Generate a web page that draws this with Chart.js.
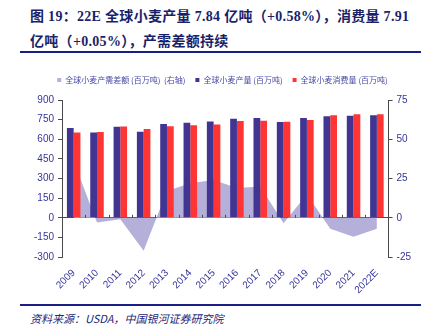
<!DOCTYPE html>
<html>
<head>
<meta charset="utf-8">
<script src="https://cdn.jsdelivr.net/npm/chart.js@4.4.0/dist/chart.umd.min.js"></script>
<style>
    html, body { margin: 0; padding: 0; background: #fff; }
    #page { position: relative; width: 430px; height: 335px; overflow: hidden; }
    #title {
        position: absolute; left: 30px; top: 4px; width: 395px;
        font-family: "Liberation Serif", "Noto Sans CJK SC", serif;
        font-weight: bold; font-size: 14px; line-height: 25px;
        letter-spacing: 0.3px;
        color: #1a1f6a;
    }
    .rule { position: absolute; left: 20px; width: 401px; height: 2px; background: #1a1f86; }
    #chart-box { position: absolute; left: 0; top: 58px; width: 430px; height: 240px; }
    #source {
        position: absolute; left: 30px; top: 310px;
        font-family: "Noto Sans CJK SC", sans-serif; font-style: italic;
        font-size: 11px; color: #24277a;
    }
</style>
</head>
<body>
<div id="page">
    <div id="title">图 19：22E 全球小麦产量 7.84 亿吨（+0.58%），消费量 7.91<br>亿吨（+0.05%），产需差额持续</div>
    <div class="rule" style="top: 51px;"></div>
    <div id="chart-box"><canvas id="wheat-chart"></canvas></div>
    <div class="rule" style="top: 304px;"></div>
    <div id="source">资料来源：USDA，中国银河证券研究院</div>
</div>
<script>
const years = ['2009', '2010', '2011', '2012', '2013', '2014', '2015', '2016', '2017', '2018', '2019', '2020', '2021', '2022E'];

// million tonnes
const production = [686, 651, 696, 658, 717, 727, 735, 756, 763, 731, 762, 776, 779, 784];
const consumption = [651, 656, 697, 679, 700, 707, 712, 739, 742, 734, 747, 783, 791, 791];
// production minus consumption, right axis
const gap = [36, -3, -1, -21, 17, 22, 24, 19, 20, -3.5, 15, -7, -12, -7];

const leftTicks = [900, 750, 600, 450, 300, 150, 0, -150, -300];
const rightTicks = [75, 50, 25, 0, -25];

const axisColor = '#4a4a4a';
const labelColor = '#35359a';

// small upward tick marks on the zero line between categories
const zeroTicks = {
    id: 'zeroTicks',
    afterDatasetsDraw(chart) {
        const x = chart.scales.x;
        const y0 = chart.scales.y.getPixelForValue(0);
        const step = (x.right - x.left) / years.length;
        const ctx = chart.ctx;
        ctx.save();
        ctx.strokeStyle = axisColor;
        ctx.lineWidth = 1;
        ctx.beginPath();
        for (let i = 1; i < years.length; i++)
        {
            const px = Math.round(x.left + i * step) + 0.5;
            ctx.moveTo(px, y0);
            ctx.lineTo(px, y0 - 3);
        }
        ctx.stroke();
        ctx.restore();
    }
};

// a bit more room between legend and plot
const legendGap = {
    id: 'legendGap',
    beforeInit(chart) {
        const fit = chart.legend.fit;
        chart.legend.fit = function() {
            fit.bind(chart.legend)();
            this.height += 6;
        };
    }
};

const wheat_ctx = document.getElementById('wheat-chart').getContext('2d');

const wheatChart = new Chart(wheat_ctx, {
    type: 'bar',
    data: {
        labels: years,
        datasets: [
            {
                type: 'line',
                label: '全球小麦产需差额 (百万吨)  (右轴)',
                data: gap,
                yAxisID: 'y1',
                fill: 'origin',
                backgroundColor: '#b4b0da',
                borderColor: '#b4b0da',
                borderWidth: 0,
                pointRadius: 0,
                tension: 0,
                order: 3
            },
            {
                label: '全球小麦产量 (百万吨)',
                data: production,
                yAxisID: 'y',
                backgroundColor: '#423592',
                order: 1
            },
            {
                label: '全球小麦消费量 (百万吨)',
                data: consumption,
                yAxisID: 'y',
                backgroundColor: '#ff3535',
                order: 2
            }
        ]
    },
    options: {
        responsive: true,
        maintainAspectRatio: false,
        animation: false,
        datasets: {
            bar: { categoryPercentage: 0.58, barPercentage: 1.0 }
        },
        layout: { padding: { left: 30, right: 15, top: 8, bottom: 0 } },
        plugins: {
            tooltip: { enabled: false },
            legend: {
                position: 'top',
                labels: {
                    usePointStyle: true,
                    pointStyle: 'rect',
                    boxWidth: 4,
                    boxHeight: 4,
                    padding: 10,
                    color: '#4646a6',
                    font: { family: '"Noto Sans CJK SC", sans-serif', size: 8 },
                    sort: (a, b) => a.datasetIndex - b.datasetIndex
                }
            }
        },
        scales: {
            x: {
                grid: { display: false },
                border: { display: false },
                ticks: {
                    color: labelColor,
                    maxRotation: 45,
                    minRotation: 45,
                    padding: 2,
                    font: { family: '"Liberation Sans", Arial, sans-serif', size: 10 }
                }
            },
            y: {
                position: 'left',
                min: -300,
                max: 900,
                afterBuildTicks: axis => { axis.ticks = leftTicks.map(v => ({ value: v })); },
                border: { display: true, color: axisColor, width: 1 },
                grid: {
                    color: ctx => ctx.tick && ctx.tick.value === 0 ? axisColor : 'rgba(0,0,0,0)',
                    tickColor: axisColor,
                    tickLength: 4
                },
                ticks: {
                    color: labelColor,
                    padding: 4,
                    font: { family: '"Liberation Sans", Arial, sans-serif', size: 10 }
                }
            },
            y1: {
                position: 'right',
                min: -25,
                max: 75,
                afterBuildTicks: axis => { axis.ticks = rightTicks.map(v => ({ value: v })); },
                border: { display: true, color: axisColor, width: 1 },
                grid: {
                    drawOnChartArea: false,
                    tickColor: axisColor,
                    tickLength: 4
                },
                ticks: {
                    color: labelColor,
                    padding: 4,
                    font: { family: '"Liberation Sans", Arial, sans-serif', size: 10 }
                }
            }
        }
    },
    plugins: [zeroTicks, legendGap]
});
</script>
</body>
</html>
